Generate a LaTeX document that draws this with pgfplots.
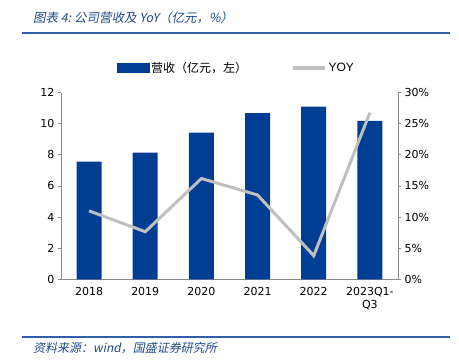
\documentclass[border=0pt]{standalone}
\usepackage{pgfplots}
\pgfplotsset{compat=1.18}
\usepackage{fontspec}
\setmainfont{DejaVu Sans}
\newfontfamily\cjk{Noto Sans CJK SC}
\newfontfamily\cjkit[FakeSlant=0.2]{Noto Sans CJK SC}
\newfontfamily\arial{Liberation Sans}
\definecolor{barblue}{RGB}{0,62,148}
\definecolor{yoygray}{RGB}{191,191,191}
\definecolor{titleblue}{RGB}{31,73,140}
\definecolor{ruleblue}{RGB}{46,95,168}
\definecolor{axgray}{RGB}{137,137,137}
\begin{document}
\begin{tikzpicture}[x=1pt,y=1pt]
\path[use as bounding box] (0,0) rectangle (459,363);
\node[anchor=west, text=titleblue, font=\cjkit\fontsize{12.5}{14}\selectfont, inner sep=0] at (33,345) {图表 4:\ 公司营收及 YoY（亿元，\%）};
\draw[ruleblue, line width=1.2pt] (22,330) -- (450,330);
\draw[ruleblue, line width=1.2pt] (22,26) -- (450,26);
\node[anchor=west, text=titleblue, font=\cjkit\fontsize{12}{14}\selectfont, inner sep=0] at (33,15) {资料来源：wind，国盛证券研究所};
\begin{axis}[
  at={(61pt,83.7pt)}, anchor=south west, scale only axis,
  width=337pt, height=186.6pt,
  xmin=-0.5, xmax=5.5, ymin=0, ymax=12,
  ytick={0,2,...,12},
  xtick={0,...,5},
  xticklabels={2018,2019,2020,2021,2022,{2023Q1-\\Q3}},
  x tick label style={align=center, font=\fontsize{11}{13}\selectfont, yshift=-2pt},
  y tick label style={font=\fontsize{11}{13}\selectfont},
  /pgf/number format/assume math mode=true,
  axis y line*=left, axis x line*=bottom,
  axis line style={axgray, line width=0.8pt},
  xtick style={draw=none},
  ytick style={axgray, line width=0.8pt},
  tick align=outside, major tick length=3pt,
  ybar, bar width=25pt,
]
\addplot[fill=barblue, draw=none] coordinates {(0,7.56) (1,8.14) (2,9.43) (3,10.69) (4,11.1) (5,10.18)};
\end{axis}
\begin{axis}[
  at={(61pt,83.7pt)}, anchor=south west, scale only axis,
  width=337pt, height=186.6pt,
  xmin=-0.5, xmax=5.5, ymin=0, ymax=30,
  ytick={0,5,...,30},
  yticklabel={\pgfmathprintnumber{\tick}\%},
  y tick label style={font=\fontsize{11}{13}\selectfont},
  /pgf/number format/assume math mode=true,
  axis y line*=right, axis x line=none,
  axis line style={axgray, line width=0.8pt},
  ytick style={axgray, line width=0.8pt},
  tick align=outside, major tick length=3pt,
  legend style={at={(0.52,1.132)}, anchor=center, draw=none, fill=none,
    legend columns=2, font=\fontsize{12}{14}\selectfont,
    /tikz/every even column/.append style={column sep=42pt}},
  legend cell align=left,
]
\addlegendimage{legend image code/.code={\fill[barblue] (0pt,-4.5pt) rectangle (32pt,4.5pt);}}
\addlegendentry{\cjk 营收（亿元，左）}
\addplot[yoygray, line width=3pt, mark=none, legend image code/.code={\draw[yoygray, line width=3.5pt] (0pt,0pt) -- (32pt,0pt);}] coordinates {(0,11.0) (1,7.65) (2,16.2) (3,13.55) (4,3.8) (5,26.8)};
\addlegendentry{\arial YOY}
\end{axis}
\end{tikzpicture}
\end{document}
